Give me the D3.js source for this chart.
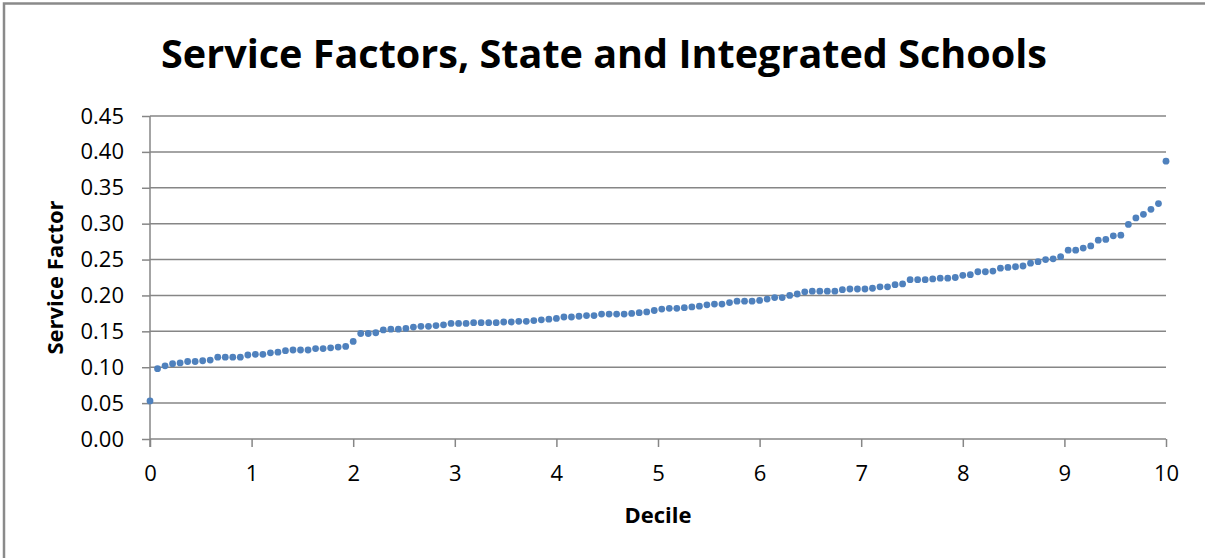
<!DOCTYPE html>
<html>
<head>
<meta charset="utf-8">
<script src="https://cdn.jsdelivr.net/npm/d3@7"></script>
<style>
  body { margin: 0; background: #fff; }
  svg { display: block; font-family: "Open Sans", sans-serif; }
</style>
</head>
<body>
<div id="chart"></div>
<script>
// Service factor of each school, sorted ascending
const serviceFactor = [
  0.053, 0.098, 0.102, 0.105, 0.106, 0.108, 0.108, 0.109, 0.110, 0.114,
  0.114, 0.114, 0.114, 0.117, 0.118, 0.118, 0.120, 0.121, 0.123, 0.124,
  0.124, 0.124, 0.126, 0.126, 0.127, 0.128, 0.129, 0.136, 0.147, 0.147,
  0.148, 0.152, 0.153, 0.153, 0.154, 0.156, 0.157, 0.157, 0.158, 0.159,
  0.161, 0.161, 0.161, 0.162, 0.162, 0.162, 0.162, 0.163, 0.163, 0.164,
  0.164, 0.165, 0.166, 0.167, 0.168, 0.170, 0.170, 0.171, 0.172, 0.172,
  0.174, 0.174, 0.174, 0.174, 0.175, 0.176, 0.177, 0.179, 0.181, 0.182,
  0.182, 0.183, 0.184, 0.185, 0.187, 0.188, 0.188, 0.190, 0.192, 0.192,
  0.192, 0.193, 0.195, 0.197, 0.197, 0.200, 0.202, 0.205, 0.206, 0.206,
  0.206, 0.206, 0.208, 0.209, 0.209, 0.209, 0.210, 0.212, 0.212, 0.215,
  0.216, 0.222, 0.222, 0.222, 0.223, 0.224, 0.224, 0.225, 0.228, 0.229,
  0.233, 0.233, 0.234, 0.238, 0.239, 0.240, 0.241, 0.245, 0.247, 0.250,
  0.251, 0.254, 0.263, 0.263, 0.266, 0.269, 0.277, 0.278, 0.283, 0.284,
  0.299, 0.308, 0.313, 0.320, 0.328, 0.387
];
const decileTicks = [0, 1, 2, 3, 4, 5, 6, 7, 8, 9, 10];
const factorTicks = [0, 0.05, 0.10, 0.15, 0.20, 0.25, 0.30, 0.35, 0.40, 0.45];

const width = 1205, height = 558;
const margin = { top: 116, right: 39, bottom: 119, left: 150 };
const plotW = width - margin.left - margin.right;
const plotH = height - margin.top - margin.bottom;
const gridColor = "#868686";

const svg = d3.select("#chart").append("svg")
  .attr("width", width)
  .attr("height", height);

// marco del gráfico (sólo se ven el borde superior e izquierdo)
svg.append("rect")
  .attr("x", 4).attr("y", 3.5)
  .attr("width", width + 20).attr("height", height + 20)
  .attr("fill", "none")
  .attr("stroke", "#8a8a8a")
  .attr("stroke-width", 2.5);

const g = svg.append("g")
  .attr("transform", `translate(${margin.left},${margin.top})`);

// the decile of each school: rank spread evenly over 0..10
const points = serviceFactor.map((v, i) => ({ decile: i * 10 / (serviceFactor.length - 1), value: v }));

const x = d3.scaleLinear().domain([0, 10]).range([0, plotW]);
const y = d3.scaleLinear().domain([0, 0.45]).range([plotH, 0]);

// gridlines
g.append("g")
  .selectAll("line")
  .data(factorTicks.filter(t => t > 0))
  .join("line")
  .attr("x1", 0).attr("x2", plotW)
  .attr("y1", d => y(d)).attr("y2", d => y(d))
  .attr("stroke", gridColor)
  .attr("stroke-width", 1.5);

// y axis
const yAxis = g.append("g")
  .call(d3.axisLeft(y).tickValues(factorTicks).tickFormat(d3.format(".2f")).tickSize(8).tickPadding(18));
yAxis.select(".domain").attr("stroke", gridColor).attr("stroke-width", 1.5).attr("d", `M0,${plotH + 8}V0`);
yAxis.selectAll(".tick line").attr("stroke", gridColor).attr("stroke-width", 1.5);
yAxis.selectAll(".tick text").attr("font-size", 22).attr("fill", "#000").attr("font-family", "Open Sans");

// x axis
const xAxis = g.append("g")
  .attr("transform", `translate(0,${plotH})`)
  .call(d3.axisBottom(x).tickValues(decileTicks).tickFormat(d3.format("d")).tickSize(8).tickPadding(18));
xAxis.select(".domain").attr("stroke", gridColor).attr("stroke-width", 1.5).attr("d", `M0,0H${plotW}`);
xAxis.selectAll(".tick line").attr("stroke", gridColor).attr("stroke-width", 1.5);
xAxis.selectAll(".tick text").attr("font-size", 22).attr("fill", "#000").attr("font-family", "Open Sans");

// puntos
g.append("g")
  .selectAll("circle")
  .data(points)
  .join("circle")
  .attr("cx", d => x(d.decile))
  .attr("cy", d => y(d.value))
  .attr("r", 3.4)
  .attr("fill", "#4f81bd");

// títulos
svg.append("text")
  .attr("x", 604).attr("y", 68)
  .attr("text-anchor", "middle")
  .attr("font-weight", "bold")
  .attr("font-size", 40)
  .attr("textLength", 886)
  .attr("lengthAdjust", "spacingAndGlyphs")
  .text("Service Factors, State and Integrated Schools");

svg.append("text")
  .attr("x", margin.left + plotW / 2).attr("y", 523)
  .attr("text-anchor", "middle")
  .attr("font-weight", "bold")
  .attr("font-size", 22)
  .text("Decile");

svg.append("text")
  .attr("transform", `translate(63,${margin.top + plotH / 2}) rotate(-90)`)
  .attr("text-anchor", "middle")
  .attr("font-weight", "bold")
  .attr("font-size", 22)
  .text("Service Factor");
</script>
</body>
</html>
